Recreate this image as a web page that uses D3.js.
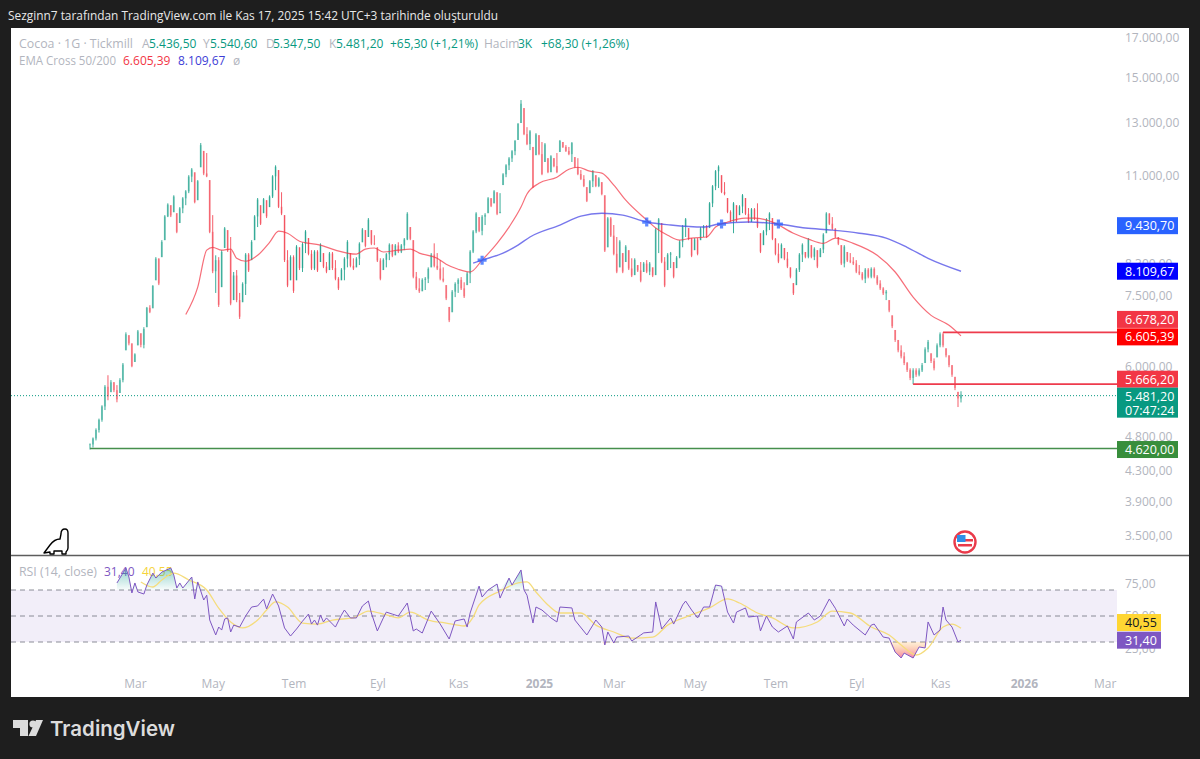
<!DOCTYPE html>
<html>
<head>
<meta charset="utf-8">
<style>
	html, body { margin: 0; padding: 0; background: #1e1e1e; }
	svg { display: block; }
	text { font-family: "Open Sans", sans-serif; }
</style>
<script src="https://cdn.jsdelivr.net/npm/d3@7"></script>
</head>
<body>
<svg id="chart" width="1200" height="759"></svg>
<script>
'use strict';

// bars, one bar every trading step
const highs = [
	4695,4785,4925,5080,5300,5650,5830,5740,5705,5650,
	5775,6060,6680,6620,6450,6250,6730,6660,6790,7240,
	7280,7760,8480,8450,8950,9690,10060,10000,10320,9750,
	9940,10260,10490,11000,11250,11100,10830,12180,11880,11800,
	10830,9690,8530,8480,8670,9330,9240,9040,8090,8140,
	7570,7830,8590,8590,8950,9690,10230,10000,10230,10160,
	10320,11000,11350,11180,10420,9690,8670,8530,8530,8810,
	8750,8890,9240,9010,8670,8670,8670,8860,8590,8350,
	8620,8620,8400,7960,8190,8480,8950,8590,8450,8480,
	8890,9300,9240,9600,9240,9090,8750,8450,8450,8590,
	8860,8840,8840,8890,8840,9010,9780,9330,8950,8090,
	7930,7930,7960,8210,8590,8860,8590,8400,8210,7760,
	7240,7640,7830,7930,7960,7830,8090,8670,9240,9780,
	9630,9690,9750,10260,10230,10490,10420,10390,11070,11390,
	11650,11910,12300,12980,13960,13610,12810,12690,12030,12570,
	12490,12220,12180,11610,11720,11610,11800,12300,12220,12100,
	12030,12220,11650,11610,11180,11000,10590,10830,11180,11000,
	10930,10760,10320,9630,9630,9390,9040,8950,8590,8810,
	8670,8450,8450,8270,8350,8350,8400,8350,8210,9300,
	9600,9450,8480,8590,8620,8350,8510,8950,9390,9600,
	9300,9010,9010,9010,9330,9390,9390,10100,10660,11180,
	11350,11000,10760,10230,9840,10100,10000,10000,10360,10230,
	9910,9910,9910,10060,9150,9240,9600,9780,9600,9010,
	8860,8860,8730,8620,8210,7810,8190,8590,8860,8620,
	9010,8810,8750,8670,8730,9150,9780,9750,9630,9300,
	9040,8810,8810,8620,8590,8480,8400,8270,8090,8190,
	8190,8210,8210,8010,7880,7710,7640,7400,7050,6730,
	6520,6410,6270,6080,5960,5960,5960,5960,6060,6370,
	6520,6250,6150,6450,6678.2,6678.2,6350,6210,6020,5800,
	5530,5540.6
];
const lows = [
	4605,4635,4740,4860,5030,5220,5385,5525,5525,5350,
	5510,5700,6310,6410,5980,6080,6410,6370,6350,6790,
	7100,7210,7880,7760,8480,8950,9630,9630,9780,9150,
	9450,9750,10000,10390,10760,10060,10160,11280,11000,10930,
	9150,8060,7570,7240,7710,8730,8620,7280,7400,7350,
	6970,7350,7520,8090,8400,8950,9330,9390,9750,9600,
	9940,10230,10490,9910,9690,8350,7710,7880,7570,7880,
	8140,8090,8590,8530,8140,8140,8090,8350,8190,8060,
	8140,8140,7880,7640,7880,7880,8210,8210,8140,8210,
	8270,8890,8750,9040,8810,8810,8350,7880,8140,8210,
	8400,8480,8530,8590,8590,8670,8950,8950,7930,7640,
	7570,7610,7640,7810,8210,8210,8140,7880,7830,7400,
	6900,7120,7470,7570,7640,7450,7760,7810,8590,9150,
	9180,9090,9390,9750,9940,10060,9690,9750,10660,10930,
	11180,11470,11720,12300,12980,12490,12100,11910,10560,11720,
	11720,11000,11470,11070,11100,11280,11070,11840,11990,11840,
	11720,11470,11250,11000,10830,10590,10100,10390,10590,10590,
	10590,10320,8620,8750,9040,8530,8060,8210,8060,8350,
	8140,7960,8010,8090,7830,8090,8060,8010,7960,8010,
	8590,8320,7710,8140,8190,7930,8190,8450,8750,9040,
	8950,8480,8670,8530,8950,9040,9010,9300,9940,10490,
	10560,10390,10320,9750,9480,9150,9480,9690,9750,9690,
	9450,9480,9540,9300,8590,8810,9090,9240,8950,8530,
	8320,8450,8400,8190,7930,7520,7760,8090,8350,8450,
	8450,8450,8400,8190,8480,8590,9150,9390,9240,9010,
	8810,8270,8210,8350,8320,8270,8060,8010,7880,7810,
	7930,7930,7930,7760,7640,7520,7400,7120,6770,6480,
	6270,6150,6020,5890,5740,5666.2,5800,5810,5890,6060,
	6270,6060,5920,6170,6370,6370,6170,5980,5800,5560,
	5270,5347.5
];
const closes = [
	4680,4770,4900,5060,5280,5620,5450,5700,5560,5400,
	5740,6030,6640,6450,6000,6230,6700,6420,6750,7220,
	7130,7740,8440,7800,8900,9650,10020,9680,10280,9190,
	9900,10220,10450,10950,11200,10100,10790,12100,11060,10960,
	9190,8110,8400,7290,8620,9290,8660,7320,8000,7400,
	7020,7790,8550,8130,8900,9650,10180,9430,10190,9650,
	10280,10960,11300,9950,9740,8400,7750,8480,7620,8770,
	8190,8840,9200,8570,8180,8630,8130,8820,8230,8100,
	8580,8190,7920,7680,8150,8440,8900,8250,8180,8440,
	8850,9260,8790,9550,8850,8840,8390,7920,8410,8560,
	8820,8520,8800,8630,8800,8970,9730,8990,7970,7680,
	7610,7890,7920,8170,8550,8250,8180,7920,7870,7440,
	6940,7600,7790,7890,7680,7490,8050,8630,9200,9740,
	9220,9640,9700,10220,9980,10450,9730,9790,11030,11350,
	11600,11870,12260,12940,13800,12530,12140,12640,10600,12520,
	11760,11040,12130,11110,11680,11320,11110,12260,12030,11880,
	11760,12180,11290,11040,10870,10630,10140,10790,11140,10630,
	10890,10360,8660,9590,9080,8570,8100,8910,8100,8770,
	8180,8000,8410,8130,7870,8310,8100,8310,8000,9260,
	9560,8360,7750,8550,8580,7970,8470,8910,9350,9560,
	8990,8520,8970,8570,9290,9350,9050,10060,10620,11140,
	11300,10430,10360,9790,9520,10060,9520,9960,10320,9730,
	9490,9870,9580,9340,8630,9200,9560,9740,8990,8570,
	8360,8820,8440,8230,7970,7560,8150,8550,8820,8490,
	8970,8490,8710,8230,8690,9110,9740,9430,9280,9050,
	8850,8310,8770,8390,8360,8310,8100,8050,7920,8150,
	7970,8170,7970,7800,7680,7560,7600,7160,6810,6520,
	6310,6190,6060,5930,5780,5920,5840,5920,6020,6330,
	6480,6100,5960,6410,6640,6410,6210,6020,5840,5600,
	5416,5481.2
];

// moving averages, sampled along the curve
const ema50Bars = [32,36,39,41,44,47,49,52,56,60,63,66,70,77,82,89,92,95,98,103,107,110,116,119,123,127,131,136,140,144,146,150,156,160,163,167,171,175,179,186,189,193,197,201,206,209,213,219,222,228,235,240,245,249,255,263,269,275,281,287,291];
const ema50 = [7070,7710,8670,8750,8670,8700,8450,8370,8530,8890,9210,9150,8920,8810,8670,8560,8700,8730,8620,8670,8700,8590,8450,8290,8160,8090,8400,8860,9330,9940,10360,10720,10930,11210,11280,11140,11070,10660,10160,9540,9300,9090,8950,9010,9040,9330,9480,9600,9600,9480,9150,8980,8860,9010,8860,8530,8090,7470,7050,6830,6605.39];
const ema200Bars = [128,131,138,143,147,157,164,171,178,186,194,205,210,220,230,239,248,257,266,273,280,291];
const ema200 = [8320,8400,8590,8810,9040,9390,9660,9750,9690,9480,9390,9330,9420,9480,9420,9300,9240,9150,9010,8750,8450,8109.67];
const crossBars = [131,186,211,230];
const crossPrices = [8400,9480,9420,9420];

// RSI panel
const rsiBars = [9,11,12,13,14,15,16,18,19,21,22,24,27,28,29,30,31,34,35,36,38,39,40,42,43,44,45,46,47,48,50,52,54,56,58,59,61,63,65,67,69,71,73,74,75,76,77,78,79,82,84,85,87,89,91,93,94,96,98,99,101,103,106,108,109,111,114,117,120,122,125,126,127,130,131,133,136,137,140,141,144,145,146,148,149,151,154,156,157,161,162,166,168,169,171,172,173,175,176,180,181,184,185,188,189,191,194,195,198,199,201,203,205,207,209,211,213,215,216,219,220,223,224,226,228,230,233,235,236,240,242,244,247,249,252,253,255,259,261,262,265,267,269,271,272,275,277,279,280,282,284,285,286,288,290,291];
const rsi = [75.4,83.1,86.9,80,67.7,75.4,68.5,66.9,73.8,83,79.2,83.8,86.9,81.5,71.5,75.4,71.5,80,63.1,76.2,62.3,66,46.9,35.4,41.5,39.2,47.7,48.5,37.7,43,41.5,50,56.9,57.7,63,55.4,66.9,57.7,40.8,34.6,40,46,51.5,43.8,46.9,43,50.8,45.4,48.5,41.5,50.8,54.6,48.5,48.5,57.7,61.5,52.3,38.5,48.5,53,51.5,50,60,38.5,40,36.9,53.8,43.8,32.3,46.2,47.7,41.5,52.3,73,64.6,70,74.6,63.8,79.2,73.8,85.4,70,66,44.6,56.9,54.6,48.5,45.4,56.9,56.2,46.9,35.4,43,46.9,41.5,27.7,37.7,29.2,33.8,34.6,30.8,35.4,37,37.7,60.8,40,48.5,43.8,58.5,61.5,54.6,48.5,56.9,56.9,73.8,73,53,44.6,53,56.2,49.2,50,38.5,50,41.5,37.7,42.3,32.3,45.4,52.3,46.9,50,63.1,56,42.3,47.7,43,35.4,43,43.8,33.8,33,22.3,17.7,21.5,17.7,26.2,25.4,45.4,35.4,39.2,56.9,46.9,41.5,30,31.4];
const rsiMaBars = [17,21,24,28,33,39,43,47,51,56,59,62,66,71,76,81,88,93,99,103,107,113,119,125,128,130,137,143,146,149,153,157,164,169,175,181,188,193,199,207,213,217,223,228,235,243,248,254,261,267,271,276,280,285,288,291];
const rsiMa = [76.2,72.3,77.7,83,77.7,70,56,45.4,40.8,46.9,54.6,60.8,56.9,44.6,43.8,46.9,48.5,53.8,50.8,48.5,53,46.9,44.6,42.3,49.2,58.5,69.2,75.4,76.2,68.5,58.5,52.3,52.3,43,37.7,33,33.8,43,49.2,56.2,63.1,60,52.3,48.5,40.8,45.4,53.8,52.3,41.5,35.4,27.7,20,25.4,41.5,43.8,40.55];
const rsiLevels = [70,50,30];
const rsiTicks = [75,50,25];

// horizontal levels drawn on the chart
const levels = [4620,5666.2,6678.2];
const levelBars = [0,275,285];
const levelColors = ['#468f4d','#ee3b4c','#ee3b4c'];

const priceTicks = [3500,3900,4300,4800,6000,7500,8300,11000,13000,15000,17000];
const timeBars = [15,41,68,96,123,150,175,202,229,256,284,312,339];
const timeLabels = ['Mar','May','Tem','Eyl','Kas','2025','Mar','May','Tem','Eyl','Kas','2026','Mar'];

const tagValues = [9430.70,8109.67,6678.20,6605.39,5666.20,4620.00];
const tagColors = ['#2962ff','#0000ff','#f23645','#ff0000','#f23645','#388e3c'];
const tagNudges = [2,0,-13,1,-5,1];
const lastPrice = 5481.20;
const countdown = '07:47:24';

const GREEN = '#089981';
const RED = '#f23645';
const GREY = '#b2b5be';
const PLOT_RIGHT = 1117;

const tr = d3.formatLocale({decimal: ',', thousands: '.', grouping: [3], currency: ['', '']});
const fmt = tr.format(',.2f');

const x = d3.scaleLinear().domain([0, 291]).range([90, 961]);
const y = d3.scaleLog().domain([3500, 17000]).range([536, 38]);
const yRsi = d3.scaleLinear().domain([30, 70]).range([642, 590]);

const $svg = d3.select('#chart');

// page and panels
$svg.append('rect')
	.attr('width', 1200).attr('height', 759)
	.attr('fill', '#1e1e1e')
;
$svg.append('rect')
	.attr('x', 11).attr('y', 28).attr('width', 1178).attr('height', 669)
	.attr('fill', '#fff')
;
$svg.append('line')
	.attr('x1', 11).attr('x2', 1189).attr('y1', 555.5).attr('y2', 555.5)
	.attr('stroke', '#5d5d5d').attr('stroke-width', 1.5)
;
$svg.append('text')
	.attr('x', 8).attr('y', 20)
	.attr('fill', '#e8e8e8').attr('font-size', 12)
	.attr('textLength', 490).attr('lengthAdjust', 'spacingAndGlyphs')
	.text('Sezginn7 tarafından TradingView.com ile Kas 17, 2025 15:42 UTC+3 tarihinde oluşturuldu')
;

// price axis and time axis first, tags go over them
const $yAxis = $svg.append('g')
	.attr('transform', 'translate(' + PLOT_RIGHT + ',0)')
	.call(d3.axisRight(y).tickValues(priceTicks).tickFormat(fmt).tickSize(0).tickPadding(8))
;
const $rsiAxis = $svg.append('g')
	.attr('transform', 'translate(' + PLOT_RIGHT + ',0)')
	.call(d3.axisRight(yRsi).tickValues(rsiTicks).tickFormat(fmt).tickSize(0).tickPadding(8))
;
const $xAxis = $svg.append('g')
	.attr('transform', 'translate(0,672)')
	.call(d3.axisBottom(x).tickValues(timeBars).tickFormat((d, i) => timeLabels[i]).tickSize(0).tickPadding(7))
;
[$yAxis, $rsiAxis, $xAxis].forEach($a => {
	$a.select('.domain').remove();
	$a.selectAll('text')
		.attr('fill', GREY)
		.style('font-family', '"Open Sans", sans-serif')
		.style('font-size', '12px')
	;
});
$xAxis.selectAll('text')
	.style('font-weight', (d, i) => timeLabels[i].length == 4 ? 'bold' : 'normal')
;

// RSI band
$svg.append('rect')
	.attr('x', 11).attr('width', PLOT_RIGHT - 11)
	.attr('y', yRsi(70)).attr('height', yRsi(30) - yRsi(70))
	.attr('fill', '#7e57c2').attr('fill-opacity', 0.1)
;
$svg.selectAll('line.level')
	.data(rsiLevels)
	.join('line')
	.attr('class', 'level')
	.attr('x1', 11).attr('x2', PLOT_RIGHT)
	.attr('y1', d => yRsi(d)).attr('y2', d => yRsi(d))
	.attr('stroke', '#787b86').attr('stroke-opacity', 0.85).attr('stroke-width', 1)
	.attr('stroke-dasharray', '5,4')
;

// legends, each item is x, text, colour and optionally its width
function legend(items, baseline) {
	$svg.append('g').selectAll('text')
		.data(items)
		.join('text')
		.attr('x', d => d[0]).attr('y', baseline)
		.attr('fill', d => d[2]).attr('font-size', 12)
		.attr('textLength', d => d[3] || null)
		.attr('lengthAdjust', d => d[3] ? 'spacingAndGlyphs' : null)
		.text(d => d[1])
	;
}
legend([
	[19, 'Cocoa · 1G · Tickmill', GREY, 114],
	[142, 'A', GREY], [149, '5.436,50', GREEN],
	[203, 'Y', GREY], [210, '5.540,60', GREEN],
	[266, 'D', GREY], [273, '5.347,50', GREEN],
	[329, 'K', GREY], [336, '5.481,20', GREEN],
	[390, '+65,30 (+1,21%)', GREEN],
	[484, 'Hacim', GREY], [518, '3K', GREEN],
	[541, '+68,30 (+1,26%)', GREEN]
], 48);
legend([
	[19, 'EMA Cross 50/200', GREY, 97],
	[123, '6.605,39', RED],
	[178, '8.109,67', '#3d3dd6'],
	[233, 'ø', GREY]
], 65);
legend([
	[19, 'RSI (14, close)', GREY, 78],
	[104, '31,40', '#7e57c2'],
	[142, '40,55', '#f5d33b']
], 576);

// candles
const bars = highs.map((h, i) => ({
	i: i,
	high: h,
	low: lows[i],
	close: closes[i],
	prev: i ? closes[i - 1] : closes[i] - 10
}));
const barColor = d => d.close >= d.prev ? GREEN : RED;
const clampBody = (d, v) => Math.max(d.low, Math.min(d.high, v));

$svg.append('g').selectAll('line')
	.data(bars)
	.join('line')
	.attr('x1', d => x(d.i)).attr('x2', d => x(d.i))
	.attr('y1', d => y(d.high)).attr('y2', d => y(d.low))
	.attr('stroke', barColor).attr('stroke-width', 1).attr('stroke-opacity', 0.8)
;
$svg.append('g').selectAll('rect')
	.data(bars)
	.join('rect')
	.attr('x', d => x(d.i) - 1).attr('width', 2)
	.attr('y', d => y(clampBody(d, Math.max(d.close, d.prev))))
	.attr('height', d => Math.abs(y(clampBody(d, d.close)) - y(clampBody(d, d.prev))))
	.attr('fill', barColor).attr('fill-opacity', 0.35)
;

// averages
const line = d3.line().x(d => x(d[0])).y(d => y(d[1])).curve(d3.curveMonotoneX);
$svg.append('path')
	.datum(d3.zip(ema200Bars, ema200))
	.attr('d', line)
	.attr('fill', 'none').attr('stroke', '#4a4ae6').attr('stroke-opacity', 0.75).attr('stroke-width', 1.4)
;
$svg.append('path')
	.datum(d3.zip(ema50Bars, ema50))
	.attr('d', line)
	.attr('fill', 'none').attr('stroke', '#f23645').attr('stroke-opacity', 0.72).attr('stroke-width', 1.2)
;
$svg.append('g').selectAll('path')
	.data(d3.zip(crossBars, crossPrices))
	.join('path')
	.attr('d', 'M-4.5,0H4.5M0,-4.5V4.5')
	.attr('transform', d => 'translate(' + x(d[0]) + ',' + y(d[1]) + ')')
	.attr('stroke', '#2962ff').attr('stroke-opacity', 0.75).attr('stroke-width', 3.2)
;

// levels and last price
$svg.append('g').selectAll('line')
	.data(levels)
	.join('line')
	.attr('x1', (d, i) => x(levelBars[i])).attr('x2', PLOT_RIGHT)
	.attr('y1', d => y(d)).attr('y2', d => y(d))
	.attr('stroke', (d, i) => levelColors[i]).attr('stroke-width', 1.7)
;
$svg.append('line')
	.attr('x1', 11).attr('x2', PLOT_RIGHT)
	.attr('y1', y(lastPrice) + 1).attr('y2', y(lastPrice) + 1)
	.attr('stroke', GREEN).attr('stroke-width', 1).attr('stroke-dasharray', '1,2')
;

// RSI fills and lines
const defs = $svg.append('defs');
function gradient(id, stops) {
	const $g = defs.append('linearGradient')
		.attr('id', id).attr('x1', 0).attr('x2', 0).attr('y1', 0).attr('y2', 1)
	;
	stops.forEach(s => $g.append('stop')
		.attr('offset', s[0]).attr('stop-color', s[1]).attr('stop-opacity', s[2]));
}
gradient('over', [[0, '#26a69a', 0.5], [1, '#26a69a', 0.03]]);
gradient('under', [[0, '#ff9800', 0.15], [1, '#e91e63', 0.55]]);

defs.append('clipPath').attr('id', 'clipOver').append('rect')
	.attr('x', 11).attr('width', PLOT_RIGHT - 11).attr('y', yRsi(95)).attr('height', yRsi(70) - yRsi(95));
defs.append('clipPath').attr('id', 'clipUnder').append('rect')
	.attr('x', 11).attr('width', PLOT_RIGHT - 11).attr('y', yRsi(30)).attr('height', yRsi(5) - yRsi(30));

const rsiPoints = d3.zip(rsiBars, rsi);
$svg.append('path')
	.datum(rsiPoints)
	.attr('d', d3.area().x(d => x(d[0])).y0(yRsi(70)).y1(d => yRsi(Math.max(d[1], 70))))
	.attr('fill', 'url(#over)').attr('clip-path', 'url(#clipOver)')
;
$svg.append('path')
	.datum(rsiPoints)
	.attr('d', d3.area().x(d => x(d[0])).y0(yRsi(30)).y1(d => yRsi(Math.min(d[1], 30))))
	.attr('fill', 'url(#under)').attr('clip-path', 'url(#clipUnder)')
;
$svg.append('path')
	.datum(d3.zip(rsiMaBars, rsiMa))
	.attr('d', d3.line().x(d => x(d[0])).y(d => yRsi(d[1])).curve(d3.curveMonotoneX))
	.attr('fill', 'none').attr('stroke', '#f5dc7c').attr('stroke-width', 1.3)
;
$svg.append('path')
	.datum(rsiPoints)
	.attr('d', d3.line().x(d => x(d[0])).y(d => yRsi(d[1])))
	.attr('fill', 'none').attr('stroke', '#7e57c2').attr('stroke-width', 1)
;

// tags on the price axis
function tag(top, height, color, lines, textColor, width) {
	$svg.append('rect')
		.attr('x', PLOT_RIGHT).attr('y', top).attr('width', width).attr('height', height)
		.attr('fill', color)
	;
	lines.forEach((t, i) => {
		$svg.append('text')
			.attr('x', PLOT_RIGHT + 8).attr('y', top + 13 + i * 14.5)
			.attr('fill', textColor).attr('font-size', 12.5).attr('font-weight', 500)
			.text(t)
		;
	});
}
tagValues.forEach((v, i) => {
	tag(y(v) + tagNudges[i] - 8.5, 17, tagColors[i], [fmt(v)], '#fff', 61);
});
tag(y(lastPrice) - 7, 30, GREEN, [fmt(lastPrice), countdown], '#fff', 61);
tag(614, 17, '#ffd633', [fmt(40.55)], '#131722', 44);
tag(yRsi(31.40) - 8.5, 17, '#7e57c2', [fmt(31.40)], '#fff', 44);

// dino mark
$svg.append('path')
	.attr('d', 'M44,553 L50,545 C53,541 57,539 60,539 L61,534 C61,530 63,529 65,529 C67,529 68,531 68,533 L68,548 C68,550 67,551 66,552 L66,554 L62,554 L62,551 L54,551 L54,554 L50,554 L50,552 Z')
	.attr('fill', '#fff').attr('stroke', '#000').attr('stroke-width', 1.4).attr('stroke-linejoin', 'round')
;

// earnings flag
const $flag = $svg.append('g').attr('transform', 'translate(965,542)');
$flag.append('circle').attr('r', 10.5).attr('fill', '#fff').attr('stroke', '#ea3a4a').attr('stroke-width', 2.4);
$flag.append('rect').attr('x', 0).attr('y', -3).attr('width', 8).attr('height', 2.5).attr('fill', '#ea3a4a');
$flag.append('rect').attr('x', -7).attr('y', 2).attr('width', 14).attr('height', 2.5).attr('fill', '#ea3a4a');
$flag.append('rect').attr('x', -8).attr('y', -7).attr('width', 8.5).attr('height', 7).attr('fill', '#2f8fe8');

// footer logo
const $logo = $svg.append('g').attr('fill', '#dcdcdc');
$logo.append('path').attr('d', 'M13,720 H28 V736 H20 V728 H13 Z');
$logo.append('circle').attr('cx', 33).attr('cy', 724).attr('r', 3.6);
$logo.append('path').attr('d', 'M36,720 H43 L36,736 H28.5 Z');
$svg.append('text')
	.attr('x', 50).attr('y', 736)
	.attr('fill', '#dcdcdc').attr('font-size', 20.5).attr('font-weight', 600)
	.style('font-family', 'Inter, sans-serif')
	.text('TradingView')
;
</script>
</body>
</html>
